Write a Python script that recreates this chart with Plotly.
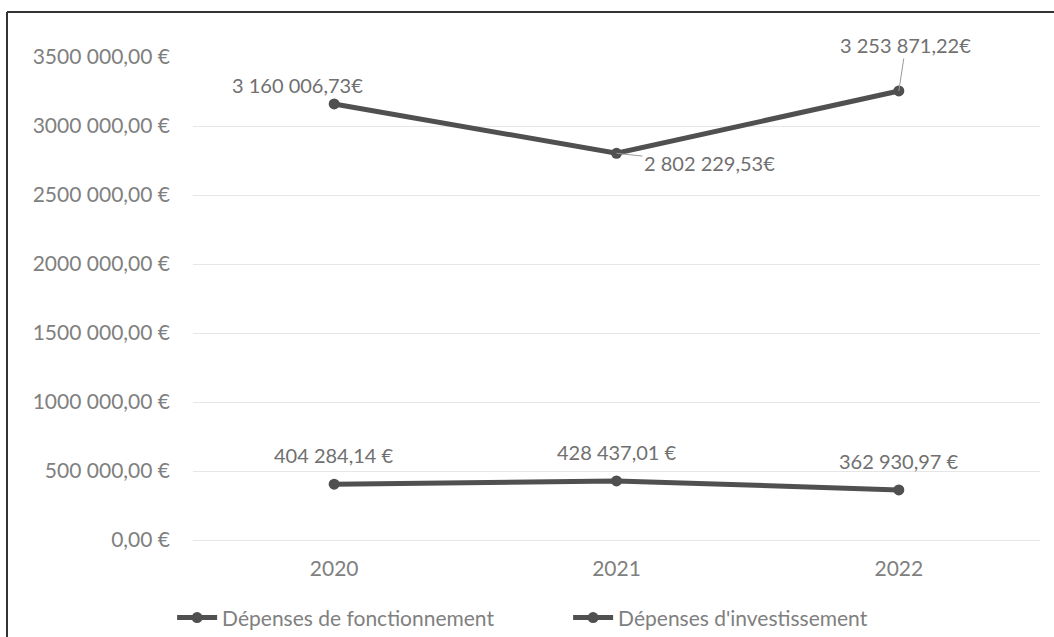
import plotly.graph_objects as go

years = ["2020", "2021", "2022"]
fonctionnement = [3160006.73, 2802229.53, 3253871.22]
investissement = [404284.14, 428437.01, 362930.97]
labels_fonct = ["3 160 006,73€", "2 802 229,53€", "3 253 871,22€"]
labels_invest = ["404 284,14 €", "428 437,01 €", "362 930,97 €"]
tick_vals = [0, 500000, 1000000, 1500000, 2000000, 2500000, 3000000, 3500000]
tick_text = ["0,00 €", "500 000,00 €", "1000 000,00 €", "1500 000,00 €",
             "2000 000,00 €", "2500 000,00 €", "3000 000,00 €", "3500 000,00 €"]

FONT = "Lato"
LINE = "#505050"
TXT = "#808080"
FS = 21

fig = go.Figure()
fig.add_trace(go.Scatter(
    x=years, y=fonctionnement, name="Dépenses de fonctionnement",
    mode="lines+markers", line=dict(color=LINE, width=5),
    marker=dict(size=11, color=LINE)))
fig.add_trace(go.Scatter(
    x=years, y=investissement, name="Dépenses d'investissement",
    mode="lines+markers", line=dict(color=LINE, width=5),
    marker=dict(size=11, color=LINE)))

lab_font = dict(family=FONT, size=20, color="#707070")
# upper series labels
fonct_style = [
    dict(showarrow=False, xshift=-37, yshift=19),
    dict(showarrow=True, arrowhead=0, arrowwidth=1, arrowcolor="#9a9a9a", ax=93, ay=10),
    dict(showarrow=True, arrowhead=0, arrowwidth=1, arrowcolor="#9a9a9a", ax=7, ay=-46),
]
for i, (y, t, st) in enumerate(zip(fonctionnement, labels_fonct, fonct_style)):
    fig.add_annotation(x=i, y=y, xref="x", yref="y", text=t, font=lab_font, **st)
for i, (y, t) in enumerate(zip(investissement, labels_invest)):
    fig.add_annotation(x=i, y=y, xref="x", yref="y", text=t, font=lab_font,
                       showarrow=False, yshift=29)

# scanned frame (top and left edges)
fig.add_shape(type="line", xref="paper", yref="paper",
              x0=-0.2196, x1=1.02, y0=1.0932, y1=1.0932,
              line=dict(color="#333333", width=2))
fig.add_shape(type="line", xref="paper", yref="paper",
              x0=-0.2196, x1=-0.2196, y0=1.0932, y1=-0.21,
              line=dict(color="#333333", width=2))

fig.update_layout(
    width=1054, height=637,
    margin=dict(l=193, r=14, t=57, b=97),
    paper_bgcolor="white", plot_bgcolor="white",
    font=dict(family=FONT, size=FS, color=TXT),
    showlegend=True,
    legend=dict(orientation="h", xref="container", x=0.539, xanchor="center",
                yref="container", y=0.03, yanchor="middle",
                font=dict(family=FONT, size=FS, color=TXT),
                itemwidth=40, entrywidth=341, entrywidthmode="pixels",
                tracegroupgap=0),
    xaxis=dict(type="category", range=[-0.5, 2.5], showgrid=False,
               showline=False, zeroline=False, ticks="",
               ticklabelstandoff=14, tickfont=dict(size=FS, color=TXT)),
    yaxis=dict(range=[0, 3500000], tickvals=tick_vals, ticktext=tick_text,
               showgrid=True, gridcolor="#e6e6e6", gridwidth=1,
               zeroline=True, zerolinecolor="#e6e6e6", zerolinewidth=1,
               showline=False, ticks="", ticklabelstandoff=22,
               tickfont=dict(size=FS, color=TXT)),
)

fig.write_html("out.html")
